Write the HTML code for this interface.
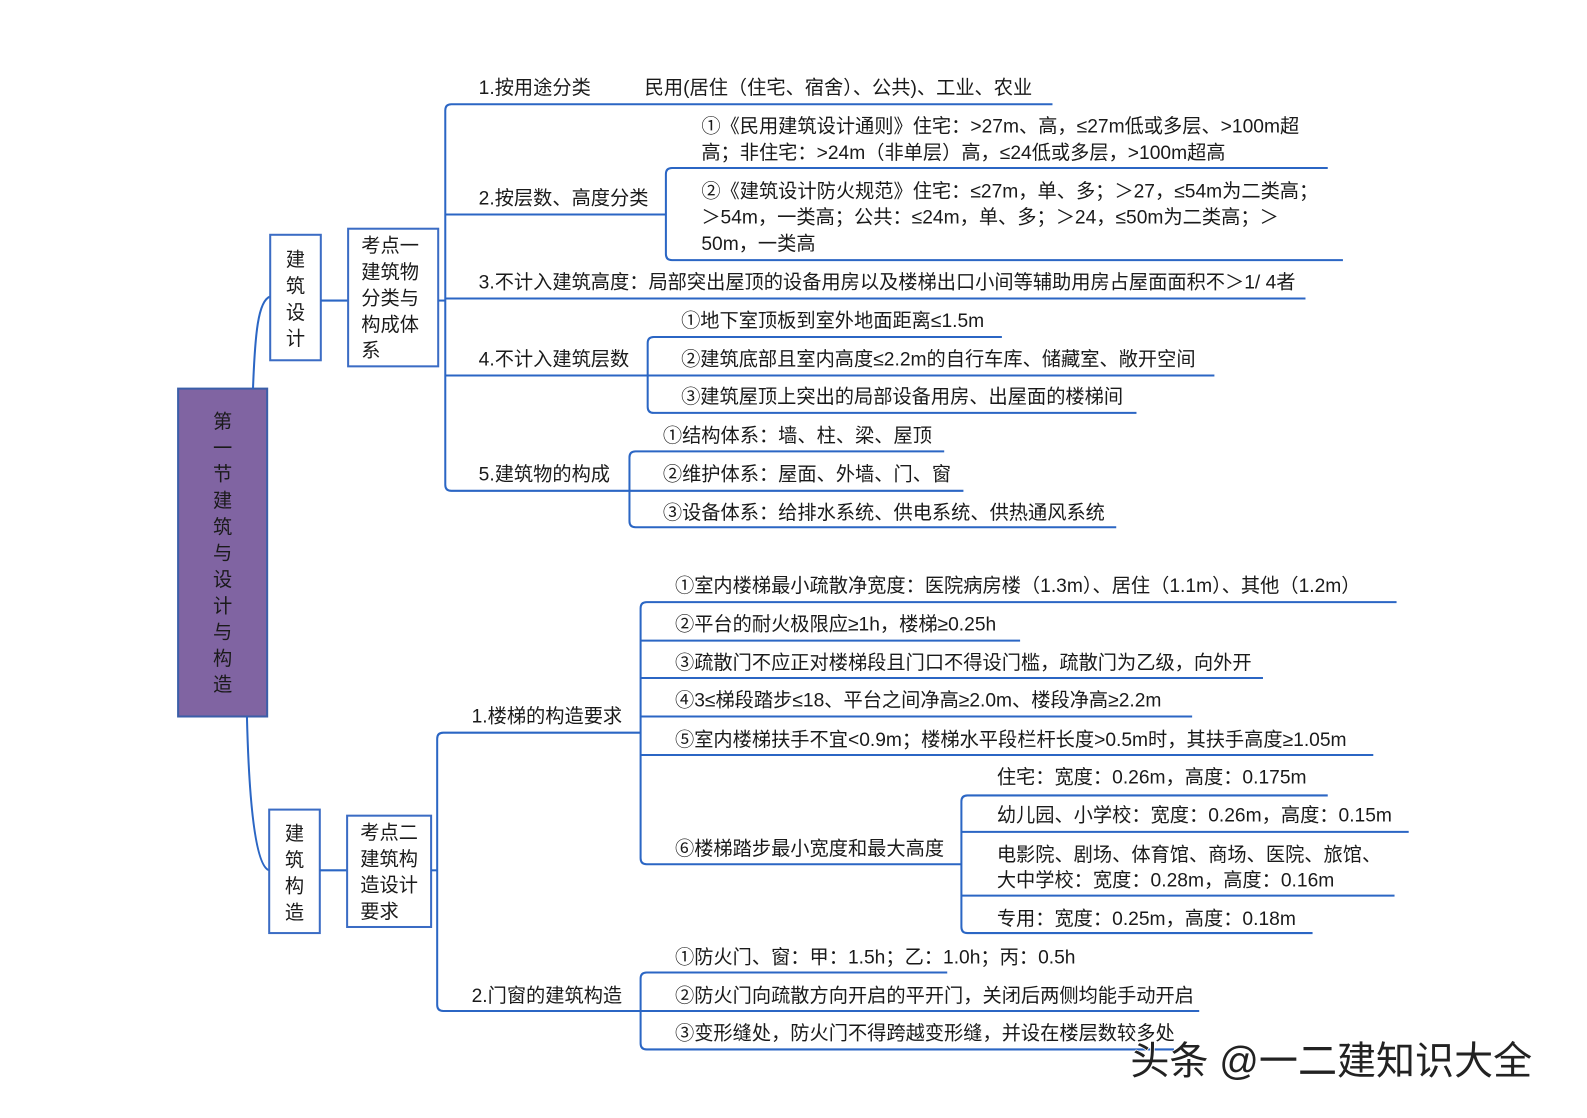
<!DOCTYPE html>
<html><head><meta charset="utf-8"><style>
html,body{margin:0;padding:0;background:#fff;}
svg{display:block;}
text{font-family:"Liberation Sans","Noto Sans CJK SC",sans-serif;font-size:19px;fill:#1a1a1a;}
.l{stroke:#2b66c4;stroke-width:2;fill:none;}
</style></head><body>
<svg width="1587" height="1118" viewBox="0 0 1587 1118" xmlns="http://www.w3.org/2000/svg">
<g transform="scale(1.012)">
<rect x="176" y="384" width="88" height="324" fill="#8064a2" stroke="#3b5ea8" stroke-width="2"/>
<g text-anchor="middle">
<text x="220" y="423">第</text><text x="220" y="449">一</text><text x="220" y="475">节</text><text x="220" y="501">建</text><text x="220" y="527">筑</text><text x="220" y="553">与</text><text x="220" y="579">设</text><text x="220" y="605">计</text><text x="220" y="631">与</text><text x="220" y="657">构</text><text x="220" y="683">造</text>
</g>
<path class="l" d="M250 384 C252 330 255 297 267 293"/>
<path class="l" d="M244 708 C246 790 252 856 266 860"/>
<rect x="267" y="232" width="50" height="124" fill="#fff" stroke="#3b6cc4" stroke-width="2"/>
<g text-anchor="middle"><text x="292" y="263">建</text><text x="292" y="289">筑</text><text x="292" y="315">设</text><text x="292" y="341">计</text></g>
<path class="l" d="M317 297 H344"/>
<rect x="344" y="226" width="89" height="136" fill="#fff" stroke="#3b6cc4" stroke-width="2"/>
<text x="357" y="249">考点一</text><text x="357" y="275">建筑物</text><text x="357" y="301">分类与</text><text x="357" y="327">构成体</text><text x="357" y="353">系</text>
<path class="l" d="M433 297 H440"/>
<path class="l" d="M440 109 Q440 103 446 103 H1040 M440 109 V479 Q440 485 446 485 H622"/>
<path class="l" d="M440 212 H658 M440 295 H1290 M440 371 H640"/>
<text x="473" y="93">1.按用途分类</text>
<text x="637" y="93">民用(居住（住宅、宿舍）、公共)、工业、农业</text>
<text x="473" y="202">2.按层数、高度分类</text>
<path class="l" d="M658 172 Q658 166 664 166 H1312 M658 172 V251 Q658 257 664 257 H1327"/>
<text x="693" y="131">①《民用建筑设计通则》住宅：&gt;27m、高，≤27m低或多层、&gt;100m超</text>
<text x="693" y="157">高；非住宅：&gt;24m（非单层）高，≤24低或多层，&gt;100m超高</text>
<text x="693" y="195">②《建筑设计防火规范》住宅：≤27m，单、多；＞27，≤54m为二类高；</text>
<text x="693" y="221">＞54m，一类高；公共：≤24m，单、多；＞24，≤50m为二类高；＞</text>
<text x="693" y="247">50m，一类高</text>
<text x="473" y="285">3.不计入建筑高度：局部突出屋顶的设备用房以及楼梯出口小间等辅助用房占屋面面积不＞1/ 4者</text>
<text x="473" y="361">4.不计入建筑层数</text>
<path class="l" d="M640 339 Q640 333 646 333 H990 M640 339 V402 Q640 408 646 408 H1123 M640 371 H1200"/>
<text x="673" y="323">①地下室顶板到室外地面距离≤1.5m</text>
<text x="673" y="361">②建筑底部且室内高度≤2.2m的自行车库、储藏室、敞开空间</text>
<text x="673" y="398">③建筑屋顶上突出的局部设备用房、出屋面的楼梯间</text>
<text x="473" y="475">5.建筑物的构成</text>
<path class="l" d="M622 452 Q622 446 628 446 H933 M622 452 V515 Q622 521 628 521 H1103 M622 485 H952"/>
<text x="655" y="437">①结构体系：墙、柱、梁、屋顶</text>
<text x="655" y="475">②维护体系：屋面、外墙、门、窗</text>
<text x="655" y="513">③设备体系：给排水系统、供电系统、供热通风系统</text>
<rect x="266" y="800" width="50" height="122" fill="#fff" stroke="#3b6cc4" stroke-width="2"/>
<g text-anchor="middle"><text x="291" y="830">建</text><text x="291" y="856">筑</text><text x="291" y="882">构</text><text x="291" y="908">造</text></g>
<path class="l" d="M316 860 H343"/>
<rect x="343" y="806" width="83" height="110" fill="#fff" stroke="#3b6cc4" stroke-width="2"/>
<text x="356" y="829">考点二</text><text x="356" y="855">建筑构</text><text x="356" y="881">造设计</text><text x="356" y="907">要求</text>
<path class="l" d="M426 860 H432"/>
<path class="l" d="M432 730 Q432 724 438 724 H633 M432 730 V993 Q432 999 438 999 H633"/>
<text x="466" y="714">1.楼梯的构造要求</text>
<path class="l" d="M633 601 Q633 595 639 595 H1380 M633 601 V848 Q633 854 639 854 H950 M633 633 H1008 M633 670 H1248 M633 708 H1178 M633 746 H1357"/>
<text x="667" y="585">①室内楼梯最小疏散净宽度：医院病房楼（1.3m）、居住（1.1m）、其他（1.2m）</text>
<text x="667" y="623">②平台的耐火极限应≥1h，楼梯≥0.25h</text>
<text x="667" y="661">③疏散门不应正对楼梯段且门口不得设门槛，疏散门为乙级，向外开</text>
<text x="667" y="698">④3≤梯段踏步≤18、平台之间净高≥2.0m、楼段净高≥2.2m</text>
<text x="667" y="737">⑤室内楼梯扶手不宜&lt;0.9m；楼梯水平段栏杆长度&gt;0.5m时，其扶手高度≥1.05m</text>
<text x="667" y="845">⑥楼梯踏步最小宽度和最大高度</text>
<path class="l" d="M950 792 Q950 786 956 786 H1312 M950 792 V916 Q950 922 956 922 H1297 M950 822 H1392 M950 885 H1378"/>
<text x="985" y="774">住宅：宽度：0.26m，高度：0.175m</text>
<text x="985" y="812">幼儿园、小学校：宽度：0.26m，高度：0.15m</text>
<text x="985" y="851">电影院、剧场、体育馆、商场、医院、旅馆、</text>
<text x="985" y="876">大中学校：宽度：0.28m，高度：0.16m</text>
<text x="985" y="914">专用：宽度：0.25m，高度：0.18m</text>
<text x="466" y="990">2.门窗的建筑构造</text>
<path class="l" d="M633 967 Q633 961 639 961 H936 M633 967 V1031 Q633 1037 639 1037 H1160 M633 999 H1185"/>
<text x="667" y="952">①防火门、窗：甲：1.5h；乙：1.0h；丙：0.5h</text>
<text x="667" y="990">②防火门向疏散方向开启的平开门，关闭后两侧均能手动开启</text>
<text x="667" y="1027">③变形缝处，防火门不得跨越变形缝，并设在楼层数较多处</text>
<text x="1117" y="1062" textLength="397" lengthAdjust="spacingAndGlyphs" style="font-size:39px;fill:#222;stroke:#fff;stroke-width:1.5;paint-order:stroke;">头条 @一二建知识大全</text>
</g>
</svg>
</body></html>
